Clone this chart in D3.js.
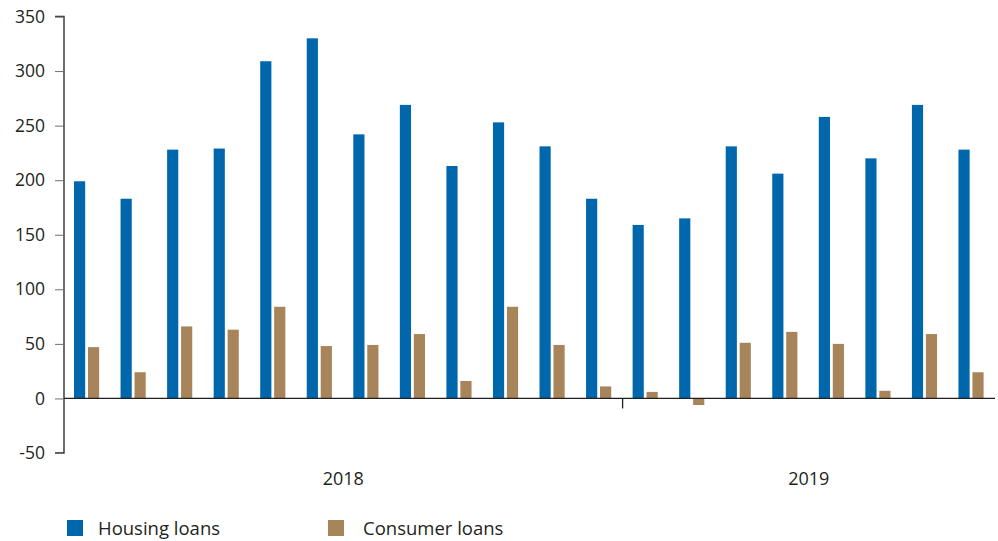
<!DOCTYPE html>
<html>
<head>
<meta charset="utf-8">
<script src="https://cdn.jsdelivr.net/npm/d3@7"></script>
<style>
  body { margin: 0; background: #fff; }
  svg text { font-family: "Open Sans", Lato, sans-serif; fill: #231f20; }
</style>
</head>
<body>
<div id="chart"></div>
<script>
// Monthly data, Jan 2018 - Aug 2019
const months = ['2018-01', '2018-02', '2018-03', '2018-04', '2018-05', '2018-06',
  '2018-07', '2018-08', '2018-09', '2018-10', '2018-11', '2018-12',
  '2019-01', '2019-02', '2019-03', '2019-04', '2019-05', '2019-06', '2019-07', '2019-08'];
const housingLoans = [199, 183, 228, 229, 309, 330, 242, 269, 213, 253, 231, 183,
  159, 165, 231, 206, 258, 220, 269, 228];
const consumerLoans = [47, 24, 66, 63, 84, 48, 49, 59, 16, 84, 49, 11,
  6, -6, 51, 61, 50, 7, 59, 24];
const years = ['2018', '2019'];
const yTicks = [-50, 0, 50, 100, 150, 200, 250, 300, 350];
const seriesNames = ['Housing loans', 'Consumer loans'];
const colors = ['#0067ac', '#a7845a'];

const width = 998, height = 541;
const margin = { top: 16, right: 3, bottom: 88, left: 64 };

const svg = d3.select('#chart').append('svg')
  .attr('width', width)
  .attr('height', height);

const x0 = d3.scaleBand()
  .domain(months)
  .range([margin.left, width - margin.right])
  .padding(0);

const x1 = d3.scaleBand()
  .domain([0, 1])
  .range([x0.bandwidth() * 0.215, x0.bandwidth() * 0.755])
  .paddingInner(0.2);

const y = d3.scaleLinear()
  .domain([-50, 350])
  .range([height - margin.bottom, margin.top + 0.5]);

// y axis
const yAxis = d3.axisLeft(y)
  .tickValues(yTicks)
  .tickSize(9)
  .tickPadding(10)
  .tickFormat(d => d);

const yG = svg.append('g')
  .attr('transform', `translate(${margin.left},0)`)
  .call(yAxis);
yG.select('.domain').attr('stroke', '#231f20').attr('stroke-width', 1.3)
  .attr('d', `M-9,${y(350)}H0V${y(-50)}H-9`);
yG.selectAll('.tick line').attr('stroke', '#6d6d6d');
yG.selectAll('.tick text')
  .style('font-size', '17.5px')
  .attr('fill', '#231f20');

// bars
const data = months.map((m, i) => ({ month: m, values: [housingLoans[i], consumerLoans[i]] }));

const groups = svg.append('g').selectAll('g')
  .data(data)
  .join('g')
  .attr('transform', d => `translate(${x0(d.month)},0)`);

groups.selectAll('rect')
  .data(d => d.values.map((v, k) => ({ k, v })))
  .join('rect')
  .attr('x', d => x1(d.k))
  .attr('width', x1.bandwidth())
  .attr('y', d => y(Math.max(0, d.v)))
  .attr('height', d => Math.abs(y(d.v) - y(0)))
  .attr('fill', d => colors[d.k]);

// zero line
svg.append('line')
  .attr('x1', margin.left)
  .attr('x2', width - margin.right)
  .attr('y1', y(0))
  .attr('y2', y(0))
  .attr('stroke', '#231f20')
  .attr('stroke-width', 1.3);

// year divider + labels
const yearMonths = years.map(yr => months.filter(m => m.startsWith(yr)));
yearMonths.slice(1).forEach(ms => {
  const xx = x0(ms[0]);
  svg.append('line')
    .attr('x1', xx).attr('x2', xx)
    .attr('y1', y(0)).attr('y2', y(0) + 10)
    .attr('stroke', '#231f20')
    .attr('stroke-width', 1.3);
});

years.forEach((yr, i) => {
  const ms = yearMonths[i];
  const cx = (x0(ms[0]) + x0(ms[ms.length - 1]) + x0.bandwidth()) / 2;
  svg.append('text')
    .attr('x', cx)
    .attr('y', 485)
    .attr('text-anchor', 'middle')
    .style('font-size', '18px')
    .text(yr);
});

// legend
const legendX = [67, 328];
const legendTextX = [98, 363];
seriesNames.forEach((name, i) => {
  svg.append('rect')
    .attr('x', legendX[i])
    .attr('y', 520)
    .attr('width', 16)
    .attr('height', 16)
    .attr('fill', colors[i]);
  svg.append('text')
    .attr('x', legendTextX[i])
    .attr('y', 535)
    .style('font-size', '18.5px')
    .text(name);
});
</script>
</body>
</html>
